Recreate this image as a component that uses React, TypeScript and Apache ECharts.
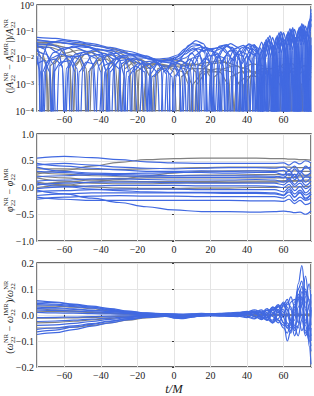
import React, { useEffect, useRef } from 'react';
import * as echarts from 'echarts';

// ---------- Panel 1: relative amplitude difference (log scale), [t, value] ----------
const ampBlue1 = [[-75,6e-2],[-65,5.5e-2],[-55,4.5e-2],[-45,3.5e-2],[-35,2.5e-2],[-25,1.8e-2],[-15,1.2e-2],[-10,8e-3],[-7,4e-3],[-5.5,1e-5],[-4,3e-3],[-1,8e-3],[4,1.4e-2],[8,3e-2],[12,4.5e-2],[16,3.5e-2],[20,1.2e-2],[22,1e-5],[24,1e-2],[28,2.8e-2],[32,2.5e-2],[36,8e-3],[37.5,1e-5],[39,1e-2],[43,3e-2],[46,1.5e-2],[48,1e-5],[49.5,2e-2],[52,5e-2],[54,1.5e-2],[55,1e-5],[56,2e-2],[58,8e-2],[60,2e-2],[61,1e-5],[62,3e-2],[64,1.1e-1],[66,3e-2],[67,1e-5],[68,3e-2],[70,1.3e-1],[72,3e-2],[73,1e-5],[74,8e-2],[75,5e-1]];
const ampBlue2 = [[-75,4e-2],[-74,1.5e-2],[-73,1e-5],[-72,1.2e-2],[-69,3.5e-2],[-62,4.5e-2],[-52,3.8e-2],[-42,2.8e-2],[-32,2e-2],[-24,1.4e-2],[-18,8e-3],[-15,3e-3],[-14,1e-5],[-13,2.5e-3],[-9,6e-3],[-3,9e-3],[2,1.1e-2],[6,1.8e-2],[10,2.8e-2],[14,3e-2],[18,2e-2],[24,1.5e-2],[27,5e-3],[28,1e-5],[29,6e-3],[33,2.2e-2],[38,3e-2],[42,1.5e-2],[44,1e-5],[45.5,1.5e-2],[48,4e-2],[50,1.5e-2],[51,1e-5],[52,2e-2],[54,6e-2],[56,2e-2],[57,1e-5],[58,2.5e-2],[60,9e-2],[62,3e-2],[63,1e-5],[64,3e-2],[66,1.2e-1],[68,4e-2],[69,1e-5],[70,4e-2],[72,1.6e-1],[74,5e-2],[75,1e-5]];
const ampBlue3 = [[-75,3e-2],[-71,2.2e-2],[-68,8e-3],[-66.5,1e-5],[-65,8e-3],[-61,2e-2],[-55,2.8e-2],[-47,2.5e-2],[-40,1.6e-2],[-36,6e-3],[-34.5,1e-5],[-33,5e-3],[-28,1.2e-2],[-20,1.2e-2],[-12,9e-3],[-5,7e-3],[0,6e-3],[3,3e-3],[4,1e-5],[5,3e-3],[9,1.5e-2],[13,2.2e-2],[17,1.8e-2],[20,6e-3],[21,1e-5],[22,6e-3],[26,2e-2],[31,3.5e-2],[35,2.5e-2],[39,8e-3],[40,1e-5],[41,1e-2],[44,3e-2],[47,2e-2],[49,1e-5],[50,1.5e-2],[52,5e-2],[54,2e-2],[55.5,1e-5],[57,3e-2],[59,9e-2],[61,2e-2],[62,1e-5],[63,3e-2],[65,1.4e-1],[67,3e-2],[68,1e-5],[69,4e-2],[71,1.8e-1],[73,4e-2],[74,1e-5],[75,6e-2]];
const ampBlue4 = [[-75,2.2e-2],[-73,1.2e-2],[-71.5,1e-5],[-70,6e-3],[-66,1.6e-2],[-60,2.4e-2],[-54,2.5e-2],[-48,1.8e-2],[-44.5,6e-3],[-43,1e-5],[-41.5,5e-3],[-36,1.4e-2],[-28,1.6e-2],[-20,1.3e-2],[-13,9e-3],[-8,6e-3],[-4,2.5e-3],[-3,1e-5],[-2,2.5e-3],[2,7e-3],[7,1.8e-2],[11,2.4e-2],[14,1.5e-2],[16,4e-3],[17,1e-5],[18,5e-3],[22,1.8e-2],[27,2.4e-2],[31,1.2e-2],[33,1e-5],[35,1.2e-2],[39,2.6e-2],[43,2e-2],[45.5,1e-5],[47,1.5e-2],[50,4e-2],[52,1e-2],[53,1e-5],[54,2e-2],[56,6e-2],[58,1.5e-2],[59,1e-5],[60,2.5e-2],[62,8e-2],[64,2e-2],[65,1e-5],[66,3e-2],[68,1.1e-1],[70,3e-2],[71,1e-5],[72,5e-2],[74,2.5e-1],[75,1.5e-1]];
const ampBlue5 = [[-75,3.5e-2],[-68,3.2e-2],[-61,2.3e-2],[-58,8e-3],[-56.5,1e-5],[-55,6e-3],[-50,1.6e-2],[-42,2.1e-2],[-34,1.9e-2],[-27,1e-2],[-24.5,3e-3],[-23.5,1e-5],[-22.5,3e-3],[-17,7e-3],[-10,8e-3],[-4,7e-3],[1,7e-3],[6,1e-2],[10,1.5e-2],[13,8e-3],[14.5,1e-5],[16,8e-3],[20,2e-2],[25,2.6e-2],[29,1.5e-2],[31,1e-5],[33,1.2e-2],[37,2.4e-2],[41,3.2e-2],[45,1.2e-2],[46.5,1e-5],[48,1.5e-2],[50.5,5e-2],[52.5,1.5e-2],[53.5,1e-5],[54.5,1.8e-2],[56.5,7e-2],[58.5,2e-2],[59.5,1e-5],[60.5,3e-2],[62.5,1e-1],[64.5,3e-2],[65.5,1e-5],[66.5,3e-2],[68.5,1.4e-1],[70.5,4e-2],[71.5,1e-5],[72.5,6e-2],[74.5,3e-1],[75,2.5e-1]];
const ampBlue6 = [[-75,1.2e-2],[-74,5e-3],[-73,1e-5],[-72,3e-3],[-69,8e-3],[-65,9e-3],[-61,5e-3],[-59.5,1e-5],[-58,4e-3],[-54,1.1e-2],[-48,1.4e-2],[-43,1e-2],[-40,3e-3],[-39,1e-5],[-38,3e-3],[-33,9e-3],[-27,1.1e-2],[-22,7e-3],[-19.5,1e-5],[-17,5e-3],[-11,7e-3],[-6,5e-3],[-1,2e-3],[0,1e-5],[1,2e-3],[5,6e-3],[9,9e-3],[12,5e-3],[13.5,1e-5],[15,5e-3],[19,1.2e-2],[24,1.4e-2],[27,5e-3],[28.5,1e-5],[30,6e-3],[34,1.4e-2],[38,1.2e-2],[41,1e-5],[43,1e-2],[46,2e-2],[48,5e-3],[49,1e-5],[50,1e-2],[52.5,3e-2],[55,1e-2],[56,1e-5],[57,1.5e-2],[59,5e-2],[61,1.5e-2],[62,1e-5],[63,2e-2],[65,7e-2],[67,2e-2],[68,1e-5],[69,3e-2],[71,1e-1],[73,3e-2],[74,1e-5],[75,3e-2]];
const ampBlue7 = [[-75,1.8e-2],[-70,1.4e-2],[-66,6e-3],[-64.5,1e-5],[-63,5e-3],[-58,1.1e-2],[-52,1.2e-2],[-49,5e-3],[-47.5,1e-5],[-46,4e-3],[-41,1.1e-2],[-35,1.4e-2],[-30,9e-3],[-27,2e-3],[-26,1e-5],[-25,2e-3],[-20,6e-3],[-14,6e-3],[-9,3e-3],[-7.5,1e-5],[-6,3e-3],[-1,6e-3],[4,8e-3],[8,5e-3],[9.5,1e-5],[11,6e-3],[15,1.8e-2],[20,2.2e-2],[24,1e-2],[25.5,1e-5],[27,1e-2],[31,2e-2],[35,1.5e-2],[37,4e-3],[38,1e-5],[39,5e-3],[42,1.5e-2],[45,1.2e-2],[47,1e-5],[48.5,1.5e-2],[51,4e-2],[53,1.2e-2],[54,1e-5],[55,2e-2],[57,5e-2],[59,1.5e-2],[60,1e-5],[61,2e-2],[63,9e-2],[65,2e-2],[66,1e-5],[67,4e-2],[69,1.5e-1],[71,4e-2],[72,1e-5],[73,5e-2],[75,3e-1]];
const ampBlue8 = [[-75,5e-2],[-66,4.2e-2],[-58,3.6e-2],[-50,3e-2],[-42,2.2e-2],[-34,1.6e-2],[-30,8e-3],[-28.5,1e-5],[-27,6e-3],[-22,1e-2],[-15,1e-2],[-9,9e-3],[-3,1e-2],[2,1.3e-2],[6,2.2e-2],[10,3.5e-2],[14,3.2e-2],[17,1.5e-2],[19,1e-5],[21,1.2e-2],[25,2.8e-2],[29,3.2e-2],[33,1.5e-2],[35,1e-5],[37,1.5e-2],[41,3.4e-2],[45,2.5e-2],[47.5,1e-5],[49,2e-2],[51.5,6e-2],[53.5,2e-2],[54.5,1e-5],[55.5,2.5e-2],[57.5,9e-2],[59.5,2.5e-2],[60.5,1e-5],[61.5,4e-2],[63.5,1.3e-1],[65.5,3e-2],[66.5,1e-5],[67.5,4e-2],[69.5,1.6e-1],[71.5,4e-2],[72.5,1e-5],[73.5,8e-2],[75,7e-1]];
const ampBlue9 = [[-75,8e-3],[-73,3e-3],[-72,1e-5],[-71,3e-3],[-67,1e-2],[-62,1.4e-2],[-57,1.1e-2],[-53,4e-3],[-51.5,1e-5],[-50,4e-3],[-45,1.2e-2],[-38,1.5e-2],[-33,9e-3],[-31,1e-5],[-29,6e-3],[-24,1e-2],[-18,8e-3],[-13,4e-3],[-11.5,1e-5],[-10,3e-3],[-5,5e-3],[0,5e-3],[3,2e-3],[4.5,1e-5],[6,3e-3],[10,1e-2],[14,1.2e-2],[17,5e-3],[18.5,1e-5],[20,5e-3],[24,1.2e-2],[28,1e-2],[30.5,1e-5],[32,8e-3],[36,1.8e-2],[40,1.4e-2],[42.5,1e-5],[44,1.2e-2],[47,2.5e-2],[49.5,8e-3],[50.5,1e-5],[51.5,1.2e-2],[53.5,4e-2],[55.5,1e-2],[56.5,1e-5],[57.5,1.5e-2],[59.5,6e-2],[61.5,1.5e-2],[62.5,1e-5],[63.5,2.5e-2],[65.5,8e-2],[67.5,2e-2],[68.5,1e-5],[69.5,3e-2],[71.5,1.2e-1],[73.5,3e-2],[74.5,1e-5],[75,2e-2]];
const ampBlue10 = [[-75,2.8e-2],[-69,2.6e-2],[-63,1.5e-2],[-61,4e-3],[-60,1e-5],[-59,4e-3],[-54,1.4e-2],[-47,1.8e-2],[-40,1.2e-2],[-37,3e-3],[-36,1e-5],[-35,3e-3],[-30,8e-3],[-24,9e-3],[-18,6e-3],[-15.5,1e-5],[-13,4e-3],[-7,8e-3],[-2,8e-3],[3,6e-3],[6,2e-3],[7,1e-5],[8,3e-3],[12,1.3e-2],[17,2.6e-2],[21,2e-2],[24,6e-3],[25,1e-5],[26,6e-3],[30,1.8e-2],[34,2e-2],[37,6e-3],[38.5,1e-5],[40,8e-3],[43,2.2e-2],[46,1.5e-2],[48,1e-5],[49.5,1.5e-2],[52,5e-2],[54,1.2e-2],[55,1e-5],[56,2e-2],[58,7e-2],[60,2e-2],[61,1e-5],[62,2.5e-2],[64,1e-1],[66,2.5e-2],[67,1e-5],[68,4e-2],[70,2e-1],[72,5e-2],[73,1e-5],[74,5e-2],[75,2e-1]];
const ampBlue11 = [[-75,6e-3],[-71,8e-3],[-68,3e-3],[-67,1e-5],[-66,3e-3],[-62,7e-3],[-57,8e-3],[-54,3e-3],[-53,1e-5],[-52,3e-3],[-48,7e-3],[-44,6e-3],[-41.5,1e-5],[-39,5e-3],[-34,7e-3],[-30,4e-3],[-28,1e-5],[-26,3e-3],[-21,5e-3],[-16,3e-3],[-14,1e-5],[-12,2e-3],[-7,4e-3],[-3,3e-3],[-1.5,1e-5],[0,2e-3],[5,5e-3],[9,4e-3],[11,1e-5],[13,5e-3],[17,1e-2],[21,6e-3],[23,1e-5],[25,6e-3],[29,1.3e-2],[33,8e-3],[35.5,1e-5],[37,6e-3],[40,1.2e-2],[43,6e-3],[44.5,1e-5],[46,8e-3],[48.5,2e-2],[50.5,6e-3],[51.5,1e-5],[52.5,1e-2],[54.5,3e-2],[56.5,8e-3],[57.5,1e-5],[58.5,1.5e-2],[60.5,5e-2],[62.5,1.2e-2],[63.5,1e-5],[64.5,2e-2],[66.5,6e-2],[68.5,1.5e-2],[69.5,1e-5],[70.5,3e-2],[72.5,1e-1],[74.5,3e-2],[75,1e-5]];
const ampBlue12 = [[-75,4.5e-2],[-64,4e-2],[-54,3.2e-2],[-46,2.6e-2],[-40,1.6e-2],[-37.5,4e-3],[-36.5,1e-5],[-35.5,4e-3],[-30,1.2e-2],[-22,1.4e-2],[-14,1.1e-2],[-8,8e-3],[-3,8e-3],[2,9e-3],[6,1.4e-2],[10,2e-2],[15,2.6e-2],[20,2.2e-2],[24,2.4e-2],[28,3e-2],[32,2.2e-2],[34.5,6e-3],[35.5,1e-5],[36.5,6e-3],[40,2.4e-2],[44,3.2e-2],[47,1.2e-2],[48.5,1e-5],[50,2e-2],[52.5,7e-2],[54.5,2e-2],[55.5,1e-5],[56.5,3e-2],[58.5,1e-1],[60.5,3e-2],[61.5,1e-5],[62.5,3e-2],[64.5,1.2e-1],[66.5,3e-2],[67.5,1e-5],[68.5,5e-2],[70.5,1.8e-1],[72.5,5e-2],[73.5,1e-5],[74.5,1e-1],[75,4e-1]];

const ampGray1 = [[-75,4e-2],[-65,3.8e-2],[-55,3.5e-2],[-45,3e-2],[-35,2.4e-2],[-28,1.8e-2],[-22,1.2e-2],[-18,6e-3],[-16.5,1e-5],[-15,5e-3],[-10,8e-3],[-3,9e-3],[3,8e-3],[8,6e-3],[12,3e-3],[13,1e-5],[14,3e-3],[20,6e-3],[28,7e-3],[35,5e-3],[40,2e-3],[41,1e-5],[42,2e-3],[48,4e-3],[54,4e-3],[58,1e-3],[59,1e-5],[60,1.5e-3],[65,4e-3],[70,5e-3],[75,6e-3]];
const ampGray2 = [[-75,2.5e-2],[-68,2.5e-2],[-62,2e-2],[-57,8e-3],[-55.5,1e-5],[-54,6e-3],[-48,1.5e-2],[-40,2e-2],[-32,1.8e-2],[-26,1.2e-2],[-22,5e-3],[-20.5,1e-5],[-19,4e-3],[-12,6e-3],[-5,5e-3],[0,4e-3],[5,3e-3],[8,1e-3],[9,1e-5],[10,1e-3],[16,3e-3],[24,4e-3],[32,3e-3],[36,1e-3],[37,1e-5],[38,1e-3],[44,3e-3],[50,3e-3],[55,2e-3],[57,1e-5],[59,2e-3],[64,3e-3],[68,1e-3],[69,1e-5],[70,1e-3],[75,3e-3]];
const ampGray3 = [[-75,3.2e-2],[-65,3e-2],[-58,2.4e-2],[-52,1.3e-2],[-48,4e-3],[-46.5,1e-5],[-45,4e-3],[-40,1e-2],[-33,1.3e-2],[-27,1e-2],[-24,4e-3],[-22.5,1e-5],[-21,3e-3],[-15,6e-3],[-8,6e-3],[-2,5e-3],[4,5e-3],[10,6e-3],[16,5e-3],[20,2e-3],[21,1e-5],[22,2e-3],[27,4e-3],[33,5e-3],[40,4e-3],[45,2e-3],[46.5,1e-5],[48,2e-3],[53,4e-3],[58,5e-3],[63,3e-3],[65,1e-5],[67,3e-3],[71,5e-3],[75,4e-3]];
const ampGray4 = [[-75,1.5e-2],[-70,8e-3],[-68,1e-5],[-66,6e-3],[-60,1.5e-2],[-52,2e-2],[-45,1.6e-2],[-40,8e-3],[-38,1e-5],[-36,6e-3],[-31,1e-2],[-26,1e-2],[-21,6e-3],[-18,1e-5],[-15,4e-3],[-10,6e-3],[-4,5e-3],[0,3e-3],[2,1e-5],[4,2e-3],[10,4e-3],[17,4e-3],[24,3e-3],[28,1e-5],[31,2e-3],[37,3e-3],[44,3e-3],[50,2e-3],[53,1e-5],[55,1.5e-3],[60,3e-3],[66,3e-3],[70,1e-3],[71,1e-5],[72,1e-3],[75,2e-3]];
const ampGray5 = [[-75,3.8e-2],[-70,3.6e-2],[-64,3e-2],[-60,1.5e-2],[-57,5e-3],[-55.5,1e-5],[-54,5e-3],[-49,1.4e-2],[-43,1.8e-2],[-37,1.4e-2],[-33,5e-3],[-31.5,1e-5],[-30,4e-3],[-25,8e-3],[-19,9e-3],[-13,6e-3],[-11,1e-5],[-9,4e-3],[-4,5e-3],[2,6e-3],[8,5e-3],[14,6e-3],[20,7e-3],[26,8e-3],[31,5e-3],[34,1e-5],[37,4e-3],[43,6e-3],[49,5e-3],[53,2e-3],[54,1e-5],[55,2e-3],[60,6e-3],[65,6e-3],[69,2e-3],[70,1e-5],[71,2e-3],[75,5e-3]];
const ampGray6 = [[-75,2e-2],[-72,1.5e-2],[-70,5e-3],[-69,1e-5],[-68,5e-3],[-63,1.1e-2],[-57,1.3e-2],[-52,9e-3],[-49,3e-3],[-48,1e-5],[-47,3e-3],[-42,8e-3],[-37,9e-3],[-32,5e-3],[-29.5,1e-5],[-27,4e-3],[-22,7e-3],[-17,6e-3],[-13,2e-3],[-12,1e-5],[-11,2e-3],[-6,4e-3],[0,5e-3],[6,4e-3],[10,1e-3],[11,1e-5],[12,1e-3],[18,3e-3],[25,3e-3],[30,1e-3],[32,1e-5],[34,1e-3],[40,2e-3],[46,2e-3],[50,1e-5],[54,2e-3],[59,3e-3],[63,1e-3],[64,1e-5],[65,1e-3],[70,3e-3],[75,4e-3]];

const ampBlue = [ampBlue1, ampBlue2, ampBlue3, ampBlue4, ampBlue5, ampBlue6, ampBlue7, ampBlue8, ampBlue9, ampBlue10, ampBlue11, ampBlue12];
const ampGray = [ampGray1, ampGray2, ampGray3, ampGray4, ampGray5, ampGray6];
const ampTickExponents = [-4, -3, -2, -1, 0];

// ---------- Panel 2: phase difference ----------
const phaseT = [-75, -60, -45, -30, -15, 0, 15, 30, 45, 55, 60, 63, 66, 69, 72, 75];
const phaseBlue1 = [0.55, 0.58, 0.56, 0.52, 0.48, 0.46, 0.45, 0.45, 0.45, 0.45, 0.46, 0.42, 0.48, 0.44, 0.50, 0.46];
const phaseBlue2 = [0.45, 0.40, 0.36, 0.33, 0.30, 0.30, 0.31, 0.30, 0.31, 0.30, 0.32, 0.22, 0.35, 0.26, 0.40, 0.30];
const phaseBlue3 = [0.38, 0.30, 0.27, 0.26, 0.27, 0.28, 0.28, 0.27, 0.28, 0.28, 0.24, 0.32, 0.20, 0.30, 0.22, 0.28];
const phaseBlue4 = [0.30, 0.28, 0.25, 0.22, 0.20, 0.19, 0.19, 0.19, 0.20, 0.19, 0.22, 0.14, 0.25, 0.12, 0.20, 0.18];
const phaseBlue5 = [0.20, 0.22, 0.24, 0.24, 0.23, 0.22, 0.22, 0.22, 0.22, 0.21, 0.18, 0.26, 0.15, 0.24, 0.10, 0.20];
const phaseBlue6 = [0.12, 0.14, 0.16, 0.16, 0.15, 0.14, 0.14, 0.14, 0.15, 0.14, 0.10, 0.17, 0.06, 0.14, 0.04, 0.12];
const phaseBlue7 = [0.05, 0.08, 0.10, 0.10, 0.10, 0.09, 0.08, 0.08, 0.08, 0.08, 0.05, 0.12, 0.02, 0.08, -0.02, 0.05];
const phaseBlue8 = [-0.02, 0.01, 0.03, 0.04, 0.04, 0.04, 0.03, 0.03, 0.03, 0.02, 0.00, 0.06, -0.06, 0.02, -0.10, 0.00];
const phaseBlue9 = [-0.08, -0.06, -0.04, -0.03, -0.03, -0.03, -0.04, -0.04, -0.04, -0.04, -0.08, 0.00, -0.12, -0.05, -0.14, -0.08];
const phaseBlue10 = [-0.15, -0.12, -0.10, -0.10, -0.10, -0.10, -0.10, -0.11, -0.11, -0.12, -0.15, -0.08, -0.18, -0.10, -0.22, -0.12];
const phaseBlue11 = [-0.22, -0.18, -0.16, -0.15, -0.16, -0.16, -0.17, -0.17, -0.17, -0.17, -0.20, -0.14, -0.25, -0.18, -0.24, -0.20];
const phaseBlue12 = [-0.05, -0.12, -0.20, -0.28, -0.36, -0.42, -0.45, -0.45, -0.46, -0.45, -0.44, -0.45, -0.47, -0.46, -0.50, -0.44];
const phaseBlue13 = [0.42, 0.45, 0.42, 0.38, 0.36, 0.35, 0.36, 0.37, 0.37, 0.36, 0.38, 0.33, 0.40, 0.30, 0.36, 0.38];
const phaseBlue14 = [0.08, 0.02, -0.03, -0.06, -0.08, -0.09, -0.09, -0.09, -0.09, -0.10, -0.14, -0.04, -0.18, -0.08, -0.20, -0.12];
const phaseBlue15 = [-0.18, -0.22, -0.24, -0.24, -0.24, -0.24, -0.24, -0.24, -0.25, -0.25, -0.26, -0.22, -0.30, -0.24, -0.32, -0.28];

const phaseGray1 = [0.25, 0.32, 0.40, 0.47, 0.52, 0.54, 0.55, 0.55, 0.55, 0.54, 0.54, 0.53, 0.53, 0.52, 0.52, 0.51];
const phaseGray2 = [0.35, 0.35, 0.34, 0.34, 0.35, 0.36, 0.37, 0.38, 0.38, 0.38, 0.38, 0.38, 0.37, 0.37, 0.37, 0.36];
const phaseGray3 = [0.28, 0.25, 0.22, 0.21, 0.21, 0.22, 0.23, 0.23, 0.24, 0.24, 0.24, 0.24, 0.24, 0.23, 0.23, 0.23];
const phaseGray4 = [0.18, 0.12, 0.08, 0.07, 0.07, 0.08, 0.09, 0.09, 0.10, 0.10, 0.11, 0.11, 0.12, 0.12, 0.12, 0.12];
const phaseGray5 = [0.05, 0.10, 0.14, 0.17, 0.18, 0.18, 0.18, 0.18, 0.18, 0.18, 0.18, 0.19, 0.19, 0.20, 0.20, 0.20];
const phaseGray6 = [0.10, 0.05, 0.01, -0.01, -0.02, -0.02, -0.01, -0.01, 0.00, 0.00, 0.00, 0.01, 0.01, 0.01, 0.02, 0.02];
const phaseGray7 = [0.00, 0.04, 0.10, 0.15, 0.22, 0.27, 0.30, 0.31, 0.31, 0.31, 0.31, 0.30, 0.31, 0.30, 0.30, 0.30];
const phaseGray8 = [0.22, 0.18, 0.14, 0.12, 0.11, 0.11, 0.11, 0.12, 0.12, 0.12, 0.13, 0.13, 0.13, 0.13, 0.14, 0.14];

const phaseBlue = [phaseBlue1, phaseBlue2, phaseBlue3, phaseBlue4, phaseBlue5, phaseBlue6, phaseBlue7, phaseBlue8, phaseBlue9, phaseBlue10, phaseBlue11, phaseBlue12, phaseBlue13, phaseBlue14, phaseBlue15];
const phaseGray = [phaseGray1, phaseGray2, phaseGray3, phaseGray4, phaseGray5, phaseGray6, phaseGray7, phaseGray8];

// ---------- Panel 3: relative frequency difference ----------
const freqT = [-75, -65, -55, -45, -35, -25, -15, -5, 0, 5, 10, 15, 20, 25, 30, 35, 40, 44, 48, 51, 54, 57, 60, 62, 64, 66, 68, 70, 72, 74, 75];
const freqBlue1 = [0.05, 0.048, 0.04, 0.03, 0.02, 0.012, 0.006, 0.004, 0.002, 0.0, 0.002, 0.003, 0.002, 0.004, 0.005, 0.006, 0.01, 0.012, -0.005, -0.02, 0.005, 0.035, 0.02, -0.04, -0.06, 0.0, 0.12, 0.19, 0.08, -0.12, -0.19];
const freqBlue2 = [0.055, 0.05, 0.042, 0.034, 0.025, 0.015, 0.008, 0.005, 0.004, 0.003, 0.004, 0.005, 0.004, 0.005, 0.006, 0.008, 0.012, 0.02, 0.01, -0.01, -0.02, 0.02, 0.05, 0.03, -0.02, -0.08, -0.04, 0.06, 0.1, 0.02, -0.04];
const freqBlue3 = [0.04, 0.038, 0.032, 0.026, 0.018, 0.01, 0.005, 0.003, 0.0, -0.004, -0.002, 0.0, 0.002, 0.003, 0.004, 0.005, 0.006, -0.005, -0.015, 0.005, 0.025, 0.01, -0.03, -0.05, -0.02, 0.05, 0.1, 0.06, -0.04, -0.1, -0.05];
const freqBlue4 = [0.03, 0.028, 0.024, 0.018, 0.013, 0.008, 0.004, 0.0, -0.006, -0.008, -0.004, -0.001, 0.0, 0.001, 0.002, 0.003, 0.0, 0.01, 0.02, 0.0, -0.03, -0.015, 0.04, 0.06, 0.02, -0.05, -0.08, -0.02, 0.07, 0.12, 0.05];
const freqBlue5 = [0.02, 0.018, 0.015, 0.012, 0.009, 0.006, 0.003, 0.0, -0.01, -0.012, -0.006, -0.002, -0.001, 0.0, 0.0, 0.001, -0.004, -0.012, 0.0, 0.018, 0.01, -0.02, -0.04, 0.0, 0.05, 0.06, 0.0, -0.06, -0.03, 0.04, 0.08];
const freqBlue6 = [0.01, 0.008, 0.007, 0.005, 0.004, 0.003, 0.002, 0.0, -0.012, -0.014, -0.008, -0.003, -0.002, -0.002, -0.001, -0.002, 0.008, 0.015, -0.01, -0.02, 0.02, 0.04, 0.01, -0.03, -0.05, 0.02, 0.08, 0.03, -0.06, -0.08, 0.0];
const freqBlue7 = [-0.01, -0.009, -0.008, -0.006, -0.004, -0.003, -0.002, -0.002, -0.004, -0.006, -0.004, -0.002, -0.002, -0.003, -0.004, -0.004, -0.01, 0.005, 0.015, -0.005, -0.025, 0.01, 0.035, 0.02, -0.03, -0.06, 0.0, 0.09, 0.05, -0.05, -0.08];
const freqBlue8 = [-0.025, -0.023, -0.02, -0.016, -0.011, -0.007, -0.004, -0.003, -0.008, -0.01, -0.006, -0.004, -0.003, -0.004, -0.005, -0.006, 0.004, 0.012, -0.008, -0.02, 0.0, 0.03, 0.045, 0.0, -0.04, -0.02, 0.06, 0.11, 0.02, -0.1, -0.14];
const freqBlue9 = [-0.04, -0.038, -0.032, -0.025, -0.017, -0.01, -0.005, -0.003, -0.005, -0.006, -0.003, -0.001, 0.0, 0.001, 0.001, 0.0, -0.008, -0.015, 0.005, 0.02, 0.02, -0.02, -0.05, -0.07, -0.03, 0.04, 0.06, -0.02, -0.08, -0.05, 0.05];
const freqBlue10 = [-0.055, -0.05, -0.042, -0.033, -0.023, -0.014, -0.007, -0.004, -0.006, -0.007, -0.004, -0.002, -0.001, 0.0, 0.0, 0.002, 0.012, 0.008, -0.012, -0.01, 0.02, 0.035, -0.01, -0.05, -0.07, 0.01, 0.1, 0.13, 0.03, -0.08, -0.12];
const freqBlue11 = [-0.075, -0.068, -0.056, -0.043, -0.03, -0.018, -0.009, -0.005, -0.008, -0.009, -0.005, -0.002, -0.001, 0.0, 0.001, 0.003, 0.006, -0.006, -0.018, 0.0, 0.03, 0.015, -0.03, -0.1, -0.06, 0.03, 0.07, 0.0, -0.07, -0.04, 0.03];
const freqBlue12 = [0.045, 0.042, 0.036, 0.03, 0.022, 0.014, 0.007, 0.004, 0.003, 0.002, 0.004, 0.006, 0.005, 0.006, 0.008, 0.01, 0.014, 0.01, -0.004, 0.01, 0.03, 0.02, 0.0, 0.04, 0.07, 0.03, -0.03, 0.04, 0.09, 0.06, 0.0];
const freqBlue13 = [-0.065, -0.058, -0.047, -0.036, -0.025, -0.015, -0.008, -0.004, -0.01, -0.011, -0.006, -0.003, -0.002, -0.002, -0.001, 0.0, 0.004, 0.014, 0.006, -0.016, -0.03, 0.0, 0.04, 0.02, -0.02, -0.05, 0.03, 0.07, -0.02, -0.06, 0.02];
const freqBlue14 = [0.025, 0.024, 0.022, 0.018, 0.014, 0.009, 0.005, 0.002, -0.002, -0.004, -0.002, 0.0, 0.001, 0.002, 0.003, 0.004, 0.01, 0.0, 0.01, 0.025, -0.005, -0.03, 0.0, 0.05, 0.03, -0.04, -0.05, 0.05, 0.15, 0.05, -0.1];

const freqGray1 = [0.035, 0.034, 0.03, 0.024, 0.016, 0.009, 0.004, 0.002, 0.001, 0.001, 0.001, 0.002, 0.002, 0.002, 0.002, 0.002, 0.003, 0.003, 0.002, 0.002, 0.003, 0.002, 0.003, 0.004, 0.002, 0.003, 0.004, 0.002, 0.003, 0.004, 0.003];
const freqGray2 = [-0.05, -0.05, -0.047, -0.04, -0.03, -0.02, -0.011, -0.005, -0.003, -0.002, -0.002, -0.001, -0.001, -0.001, -0.001, -0.001, -0.002, -0.002, -0.001, -0.002, -0.002, -0.001, -0.002, -0.003, -0.002, -0.002, -0.003, -0.002, -0.002, -0.003, -0.002];
const freqGray3 = [0.015, 0.014, 0.012, 0.009, 0.006, 0.003, 0.001, 0.0, 0.0, 0.0, 0.0, 0.001, 0.001, 0.001, 0.001, 0.001, 0.001, 0.001, 0.001, 0.0, 0.001, 0.001, 0.001, 0.0, 0.001, 0.001, 0.0, 0.001, 0.001, 0.0, 0.001];
const freqGray4 = [-0.012, -0.012, -0.011, -0.009, -0.007, -0.004, -0.002, -0.001, 0.0, 0.0, 0.0, 0.0, 0.0, -0.001, 0.0, 0.0, 0.0, -0.001, 0.0, 0.0, -0.001, 0.0, 0.0, -0.001, 0.0, 0.0, -0.001, 0.0, 0.0, -0.001, 0.0];
const freqGray5 = [0.025, 0.02, 0.016, 0.012, 0.008, 0.005, 0.003, 0.002, 0.001, 0.001, 0.001, 0.001, 0.001, 0.002, 0.001, 0.001, 0.002, 0.001, 0.001, 0.002, 0.001, 0.001, 0.002, 0.001, 0.001, 0.002, 0.001, 0.001, 0.002, 0.001, 0.001];
const freqGray6 = [-0.03, -0.028, -0.024, -0.019, -0.013, -0.008, -0.004, -0.002, -0.001, -0.001, -0.001, -0.001, -0.001, -0.001, -0.002, -0.001, -0.001, -0.001, -0.002, -0.001, -0.001, -0.001, -0.002, -0.001, -0.001, -0.001, -0.002, -0.001, -0.001, -0.001, -0.002];

const freqBlue = [freqBlue1, freqBlue2, freqBlue3, freqBlue4, freqBlue5, freqBlue6, freqBlue7, freqBlue8, freqBlue9, freqBlue10, freqBlue11, freqBlue12, freqBlue13, freqBlue14];
const freqGray = [freqGray1, freqGray2, freqGray3, freqGray4, freqGray5, freqGray6];

// ---------- styling ----------
const BLUE = '#4169e1';
const GRAY = '#808080';
const FONT = '"Liberation Serif", "DejaVu Serif", serif';
const LW = 1.2;

const SUP: Record<string, string> = { '-': '⁻', '0': '⁰', '1': '¹', '2': '²', '3': '³', '4': '⁴' };
const toSup = (n: number) => String(n).split('').map((c) => SUP[c] || c).join('');
const minus = (s: string) => s.replace('-', '−');

type Tok = { t: string; it?: boolean; sub?: string; sup?: string };

let measureCtx: CanvasRenderingContext2D | null = null;
function textW(s: string, size: number, italic?: boolean) {
  if (!measureCtx) measureCtx = document.createElement('canvas').getContext('2d');
  if (!measureCtx) return s.length * size * 0.5;
  measureCtx.font = `${italic ? 'italic ' : ''}${size}px ${FONT}`;
  return measureCtx.measureText(s).width;
}

function buildLabel(tokens: Tok[], cx: number, cy: number) {
  const F = 10;
  const S = 6.5;
  const children: any[] = [];
  let x = 0;
  for (const tok of tokens) {
    children.push({
      type: 'text', x, y: 0,
      style: { text: tok.t, fontSize: F, fontFamily: FONT, fontStyle: tok.it ? 'italic' : 'normal', fill: '#1a1a1a', align: 'left', verticalAlign: 'middle' },
    });
    x += textW(tok.t, F, tok.it);
    if (tok.sub || tok.sup) {
      let sw = 0;
      if (tok.sub) {
        children.push({ type: 'text', x: x + 0.3, y: 3, style: { text: tok.sub, fontSize: S, fontFamily: FONT, fill: '#1a1a1a', align: 'left', verticalAlign: 'middle' } });
        sw = Math.max(sw, textW(tok.sub, S));
      }
      if (tok.sup) {
        children.push({ type: 'text', x: x + 0.3, y: -4, style: { text: tok.sup, fontSize: S, fontFamily: FONT, fill: '#1a1a1a', align: 'left', verticalAlign: 'middle' } });
        sw = Math.max(sw, textW(tok.sup, S));
      }
      x += sw + 0.6;
    }
  }
  const W = x;
  children.forEach((c) => { c.x -= W / 2; });
  return { type: 'group', x: cx, y: cy, rotation: Math.PI / 2, children };
}

const ampLabel: Tok[] = [{ t: '(|' }, { t: 'A', it: true, sub: '22', sup: 'NR' }, { t: ' − ' }, { t: 'A', it: true, sub: '22', sup: 'IMR' }, { t: '|)/' }, { t: 'A', it: true, sub: '22', sup: 'NR' }];
const phaseLabel: Tok[] = [{ t: 'φ', it: true, sub: '22', sup: 'NR' }, { t: ' − ' }, { t: 'φ', it: true, sub: '22', sup: 'IMR' }];
const freqLabel: Tok[] = [{ t: '(' }, { t: 'ω', it: true, sub: '22', sup: 'NR' }, { t: ' − ' }, { t: 'ω', it: true, sub: '22', sup: 'IMR' }, { t: ')/' }, { t: 'ω', it: true, sub: '22', sup: 'NR' }];

function buildOption() {
  const grids = [
    { left: 37, top: 5, width: 274, height: 106 },
    { left: 37, top: 134, width: 274, height: 107 },
    { left: 37, top: 263, width: 274, height: 107 },
  ].map((g) => ({ ...g, show: true, borderColor: '#3a3a3a', borderWidth: 1.3, backgroundColor: 'transparent', containLabel: false }));

  const splitLine = { show: true, lineStyle: { color: '#e4e4e4', width: 1 } };
  const axisLabel = { fontFamily: FONT, fontSize: 10, color: '#222' };
  const axisTick = { show: true, inside: false, length: 2, lineStyle: { color: '#3a3a3a' } };

  const xAxis = [0, 1, 2].map((i) => ({
    gridIndex: i, type: 'value', min: -75, max: 75, splitNumber: 7,
    axisLine: { show: false }, axisTick, splitLine,
    axisLabel: { ...axisLabel, margin: 3, showMinLabel: false, showMaxLabel: false, formatter: (v: number) => (Math.abs(v % 20) < 1e-9 ? minus(String(v)) : '') },
    ...(i === 2 ? { name: 't/M', nameLocation: 'middle', nameGap: 15, nameTextStyle: { fontFamily: FONT, fontStyle: 'italic', fontSize: 12.5, color: '#1a1a1a' } } : {}),
  }));

  const yAxis = [
    {
      gridIndex: 0, type: 'log', logBase: 10, min: Math.pow(10, ampTickExponents[0]), max: Math.pow(10, ampTickExponents[ampTickExponents.length - 1]),
      axisLine: { show: false }, axisTick, splitLine, minorTick: { show: false },
      axisLabel: { ...axisLabel, margin: 3, formatter: (v: number) => '10' + toSup(Math.round(Math.log10(v))) },
    },
    {
      gridIndex: 1, type: 'value', min: -1, max: 1, interval: 0.5,
      axisLine: { show: false }, axisTick, splitLine,
      axisLabel: { ...axisLabel, margin: 3, formatter: (v: number) => minus(v.toFixed(1)) },
    },
    {
      gridIndex: 2, type: 'value', min: -0.2, max: 0.2, interval: 0.1,
      axisLine: { show: false }, axisTick, splitLine,
      axisLabel: { ...axisLabel, margin: 3, formatter: (v: number) => minus(v.toFixed(1)) },
    },
  ];

  const series: any[] = [];
  const mk = (data: any[], idx: number, color: string, smooth: number) => ({
    type: 'line', xAxisIndex: idx, yAxisIndex: idx, data, showSymbol: false, symbol: 'none',
    smooth, smoothMonotone: 'x', clip: true, silent: true,
    lineStyle: { color, width: LW },
  });

  ampGray.forEach((c) => series.push(mk(c, 0, GRAY, 0.25)));
  ampBlue.forEach((c) => series.push(mk(c, 0, BLUE, 0.25)));
  phaseGray.forEach((c) => series.push(mk(phaseT.map((t, i) => [t, c[i]]), 1, GRAY, 0.4)));
  phaseBlue.forEach((c) => series.push(mk(phaseT.map((t, i) => [t, c[i]]), 1, BLUE, 0.4)));
  freqGray.forEach((c) => series.push(mk(freqT.map((t, i) => [t, c[i]]), 2, GRAY, 0.4)));
  freqBlue.forEach((c) => series.push(mk(freqT.map((t, i) => [t, c[i]]), 2, BLUE, 0.4)));

  return {
    animation: false,
    backgroundColor: '#fff',
    grid: grids,
    xAxis,
    yAxis,
    series,
    graphic: [buildLabel(ampLabel, 9, 56), buildLabel(phaseLabel, 9, 190), buildLabel(freqLabel, 9, 317)],
  };
}

export default function App() {
  const ref = useRef<HTMLDivElement>(null);
  useEffect(() => {
    if (!ref.current) return;
    const chart = echarts.init(ref.current, null, { renderer: 'svg' });
    chart.setOption(buildOption() as any);
    return () => chart.dispose();
  }, []);
  return <div ref={ref} style={{ position: 'fixed', left: 0, top: 0, width: 314, height: 396, background: '#fff' }} />;
}
